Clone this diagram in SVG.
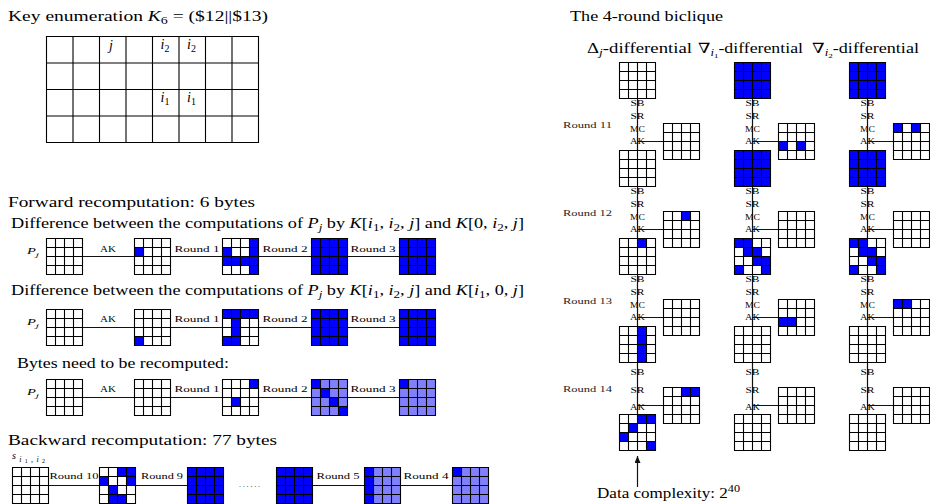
<svg xmlns="http://www.w3.org/2000/svg" width="930" height="504" viewBox="0 0 930 504">
<style>
  text{font-family:"Liberation Serif","DejaVu Serif",serif;fill:#000}
  .t{font-size:14px}
  .s{font-size:8px;fill:#222}
  .it{font-style:italic}
  .w{fill:#fff}
  .b{fill:#0000ff}
  .l{fill:#8080ff}
  .ln{stroke:#111;stroke-width:1.2;fill:none}
  .gl{fill:none;stroke:#000;stroke-width:1.1}
</style>
<defs>
  <!-- 4x4 state grid lines, 9px cells -->
  <path id="g4" class="gl" d="M0,0H36V36H0Z M9,0V36M18,0V36M27,0V36M0,9H36M0,18H36M0,27H36"/>
  <rect id="bw" class="w" width="36" height="36"/>
  <rect id="bb" class="b" width="36" height="36"/>
  <rect id="bl" class="l" width="36" height="36"/>
  <marker id="ah" markerUnits="userSpaceOnUse" markerWidth="8" markerHeight="6" refX="7" refY="3" orient="auto">
    <path d="M0,0L7,3L0,6z" fill="#111"/>
  </marker>
</defs>

<!-- headings and captions -->
<g id="captions">
  <text class="t" x="8" y="21" textLength="260" lengthAdjust="spacingAndGlyphs">Key enumeration <tspan class="it">K</tspan><tspan dy="3" font-size="10">6</tspan><tspan dy="-3"> = ($12||$13)</tspan></text>
  <text class="t" x="8" y="207" textLength="247" lengthAdjust="spacingAndGlyphs">Forward recomputation: 6 bytes</text>
  <text class="t" x="11" y="228" textLength="513" lengthAdjust="spacingAndGlyphs">Difference between the computations of <tspan class="it">P</tspan><tspan class="it" dy="3" font-size="10">j</tspan><tspan dy="-3"> by </tspan><tspan class="it">K</tspan>[<tspan class="it">i</tspan><tspan dy="3" font-size="10">1</tspan><tspan dy="-3">, </tspan><tspan class="it">i</tspan><tspan dy="3" font-size="10">2</tspan><tspan dy="-3">, </tspan><tspan class="it">j</tspan>] and <tspan class="it">K</tspan>[0, <tspan class="it">i</tspan><tspan dy="3" font-size="10">2</tspan><tspan dy="-3">, </tspan><tspan class="it">j</tspan>]</text>
  <text class="t" x="11" y="295" textLength="513" lengthAdjust="spacingAndGlyphs">Difference between the computations of <tspan class="it">P</tspan><tspan class="it" dy="3" font-size="10">j</tspan><tspan dy="-3"> by </tspan><tspan class="it">K</tspan>[<tspan class="it">i</tspan><tspan dy="3" font-size="10">1</tspan><tspan dy="-3">, </tspan><tspan class="it">i</tspan><tspan dy="3" font-size="10">2</tspan><tspan dy="-3">, </tspan><tspan class="it">j</tspan>] and <tspan class="it">K</tspan>[<tspan class="it">i</tspan><tspan dy="3" font-size="10">1</tspan><tspan dy="-3">, 0, </tspan><tspan class="it">j</tspan>]</text>
  <text class="t" x="17" y="368" textLength="212" lengthAdjust="spacingAndGlyphs">Bytes need to be recomputed:</text>
  <text class="t" x="8" y="445" textLength="269" lengthAdjust="spacingAndGlyphs">Backward recomputation: 77 bytes</text>
  <text class="t" x="570" y="21" textLength="153" lengthAdjust="spacingAndGlyphs">The 4-round biclique</text>
  <text class="t" x="587" y="53" textLength="105" lengthAdjust="spacingAndGlyphs">Δ<tspan class="it" dy="3" font-size="10">j</tspan><tspan dy="-3">-differential</tspan></text>
  <text class="t" x="698" y="53" textLength="105" lengthAdjust="spacingAndGlyphs">∇<tspan class="it" dy="3" font-size="10">i</tspan><tspan dy="2" font-size="7">1</tspan><tspan dy="-5">-differential</tspan></text>
  <text class="t" x="812" y="53" textLength="107" lengthAdjust="spacingAndGlyphs">∇<tspan class="it" dy="3" font-size="10">i</tspan><tspan dy="2" font-size="7">2</tspan><tspan dy="-5">-differential</tspan></text>
  <text class="t" x="597" y="498" textLength="143" lengthAdjust="spacingAndGlyphs">Data complexity: 2<tspan dy="-6" font-size="10">40</tspan></text>
  <!-- state names -->
  <text class="it" font-size="9" x="27" y="254" textLength="12" lengthAdjust="spacingAndGlyphs">P<tspan dy="3" font-size="7">j</tspan></text>
  <text class="it" font-size="9" x="27" y="325" textLength="12" lengthAdjust="spacingAndGlyphs">P<tspan dy="3" font-size="7">j</tspan></text>
  <text class="it" font-size="9" x="27" y="395" textLength="12" lengthAdjust="spacingAndGlyphs">P<tspan dy="3" font-size="7">j</tspan></text>
  <text class="it" font-size="10" x="12" y="459" textLength="33" lengthAdjust="spacing">s<tspan dy="2.5" font-size="8">i</tspan><tspan dy="1.5" font-size="6" font-style="normal">1</tspan><tspan dy="-1.5" font-size="8">,i</tspan><tspan dy="1.5" font-size="6" font-style="normal">2</tspan></text>
  <text class="s" x="239" y="487" textLength="21" lengthAdjust="spacing">......</text>
  <!-- round labels of the biclique -->
  <text class="s" x="563" y="127.5" textLength="49" lengthAdjust="spacingAndGlyphs">Round 11</text>
  <text class="s" x="563" y="215.5" textLength="49" lengthAdjust="spacingAndGlyphs">Round 12</text>
  <text class="s" x="563" y="303.5" textLength="49" lengthAdjust="spacingAndGlyphs">Round 13</text>
  <text class="s" x="563" y="391.5" textLength="49" lengthAdjust="spacingAndGlyphs">Round 14</text>
</g>

<!-- key schedule table -->
<g id="key-table">
  <path class="gl" d="M46.5,36.5H258.5V142.5H46.5Z M73,36.5V142.5M99.5,36.5V142.5M126,36.5V142.5M152.5,36.5V142.5M179,36.5V142.5M205.5,36.5V142.5M232,36.5V142.5 M46.5,63H258.5M46.5,89.5H258.5M46.5,116H258.5"/>
  <text class="it" font-size="14" x="111" y="50" text-anchor="middle">j</text>
  <text class="it" font-size="14" x="165" y="48.5" text-anchor="middle">i<tspan dy="3" font-size="10" font-style="normal">2</tspan></text>
  <text class="it" font-size="14" x="191.5" y="48.5" text-anchor="middle">i<tspan dy="3" font-size="10" font-style="normal">2</tspan></text>
  <text class="it" font-size="14" x="165" y="101.5" text-anchor="middle">i<tspan dy="3" font-size="10" font-style="normal">1</tspan></text>
  <text class="it" font-size="14" x="191.5" y="101.5" text-anchor="middle">i<tspan dy="3" font-size="10" font-style="normal">1</tspan></text>
</g>

<!-- connectors with their labels -->
<g id="connectors">
  <g class="s" text-anchor="middle">
    <text x="108" y="252" textLength="16" lengthAdjust="spacingAndGlyphs">AK</text>
    <text x="197" y="252" textLength="45" lengthAdjust="spacingAndGlyphs">Round 1</text>
    <text x="285" y="252" textLength="45" lengthAdjust="spacingAndGlyphs">Round 2</text>
    <text x="373" y="252" textLength="45" lengthAdjust="spacingAndGlyphs">Round 3</text>
    <text x="108" y="322" textLength="16" lengthAdjust="spacingAndGlyphs">AK</text>
    <text x="197" y="322" textLength="45" lengthAdjust="spacingAndGlyphs">Round 1</text>
    <text x="285" y="322" textLength="45" lengthAdjust="spacingAndGlyphs">Round 2</text>
    <text x="373" y="322" textLength="45" lengthAdjust="spacingAndGlyphs">Round 3</text>
    <text x="108" y="392" textLength="16" lengthAdjust="spacingAndGlyphs">AK</text>
    <text x="197" y="392" textLength="45" lengthAdjust="spacingAndGlyphs">Round 1</text>
    <text x="285" y="392" textLength="45" lengthAdjust="spacingAndGlyphs">Round 2</text>
    <text x="373" y="392" textLength="45" lengthAdjust="spacingAndGlyphs">Round 3</text>
    <text x="74" y="479" textLength="49" lengthAdjust="spacingAndGlyphs">Round 10</text>
    <text x="162" y="479" textLength="42" lengthAdjust="spacingAndGlyphs">Round 9</text>
    <text x="338" y="479" textLength="43" lengthAdjust="spacingAndGlyphs">Round 5</text>
    <text x="426" y="479" textLength="45" lengthAdjust="spacingAndGlyphs">Round 4</text>
  </g>
  <!-- SB / SR / MC / AK steps of the biclique columns -->
  <g class="s" text-anchor="middle">
    <g id="steps-dj">
      <text x="637.5" y="105.5" textLength="14" lengthAdjust="spacingAndGlyphs">SB</text>
      <text x="637.5" y="118.5" textLength="14" lengthAdjust="spacingAndGlyphs">SR</text>
      <text x="637.5" y="131.5" textLength="15" lengthAdjust="spacingAndGlyphs">MC</text>
      <text x="637.5" y="144" textLength="15" lengthAdjust="spacingAndGlyphs">AK</text>
      <text x="637.5" y="193.5" textLength="14" lengthAdjust="spacingAndGlyphs">SB</text>
      <text x="637.5" y="206.5" textLength="14" lengthAdjust="spacingAndGlyphs">SR</text>
      <text x="637.5" y="219.5" textLength="15" lengthAdjust="spacingAndGlyphs">MC</text>
      <text x="637.5" y="232" textLength="15" lengthAdjust="spacingAndGlyphs">AK</text>
      <text x="637.5" y="281.5" textLength="14" lengthAdjust="spacingAndGlyphs">SB</text>
      <text x="637.5" y="294.5" textLength="14" lengthAdjust="spacingAndGlyphs">SR</text>
      <text x="637.5" y="307.5" textLength="15" lengthAdjust="spacingAndGlyphs">MC</text>
      <text x="637.5" y="320" textLength="15" lengthAdjust="spacingAndGlyphs">AK</text>
      <text x="637.5" y="375" textLength="14" lengthAdjust="spacingAndGlyphs">SB</text>
      <text x="637.5" y="393" textLength="14" lengthAdjust="spacingAndGlyphs">SR</text>
      <text x="637.5" y="410" textLength="15" lengthAdjust="spacingAndGlyphs">AK</text>
    </g>
    <use href="#steps-dj" x="115"/>
    <use href="#steps-dj" x="230"/>
  </g>
  <path class="ln" d="M64.5,256.5H417.5 M64.5,327.5H417.5 M64.5,397.5H417.5 M30.5,485.5H206.5 M294.5,485.5H470.5
    M637.5,80V432 M752.5,80V432 M867.5,80V432
    M637.5,141.5H663.5 M637.5,229.5H663.5 M637.5,317.5H663.5 M637.5,405.5H663.5
    M752.5,141.5H778.5 M752.5,229.5H778.5 M752.5,317.5H778.5 M752.5,405.5H778.5
    M867.5,141.5H893.5 M867.5,229.5H893.5 M867.5,317.5H893.5 M867.5,405.5H893.5"/>
  <line class="ln" x1="637.5" y1="487" x2="637.5" y2="456" marker-end="url(#ah)"/>
</g>

<!-- forward recomputation, first key pair -->
<g id="fwd1-pj" transform="translate(46.5,238.5)"><use href="#bw"/><use href="#g4"/></g>
<g id="fwd1-ak" transform="translate(134.5,238.5)"><use href="#bw"/><rect class="b" x="0" y="9" width="9" height="9"/><use href="#g4"/></g>
<g id="fwd1-r1" transform="translate(222.5,238.5)"><use href="#bw"/><rect class="b" x="27" y="0" width="9" height="36"/><rect class="b" x="0" y="9" width="9" height="9"/><rect class="b" x="0" y="18" width="36" height="9"/><use href="#g4"/></g>
<g id="fwd1-r2" transform="translate(311.5,238.5)"><use href="#bb"/><use href="#g4"/></g>
<g id="fwd1-r3" transform="translate(399.5,238.5)"><use href="#bb"/><use href="#g4"/></g>

<!-- forward recomputation, second key pair -->
<g id="fwd2-pj" transform="translate(46.5,309.5)"><use href="#bw"/><use href="#g4"/></g>
<g id="fwd2-ak" transform="translate(134.5,309.5)"><use href="#bw"/><rect class="b" x="0" y="27" width="9" height="9"/><use href="#g4"/></g>
<g id="fwd2-r1" transform="translate(222.5,309.5)"><use href="#bw"/><rect class="b" x="0" y="0" width="36" height="9"/><rect class="b" x="9" y="9" width="9" height="27"/><rect class="b" x="0" y="27" width="9" height="9"/><use href="#g4"/></g>
<g id="fwd2-r2" transform="translate(311.5,309.5)"><use href="#bb"/><use href="#g4"/></g>
<g id="fwd2-r3" transform="translate(399.5,309.5)"><use href="#bb"/><use href="#g4"/></g>

<!-- bytes to recompute -->
<g id="rec-pj" transform="translate(46.5,379.5)"><use href="#bw"/><use href="#g4"/></g>
<g id="rec-ak" transform="translate(134.5,379.5)"><use href="#bw"/><use href="#g4"/></g>
<g id="rec-r1" transform="translate(222.5,379.5)"><use href="#bw"/><rect class="b" x="27" y="0" width="9" height="9"/><rect class="b" x="9" y="18" width="9" height="9"/><use href="#g4"/></g>
<g id="rec-r2" transform="translate(311.5,379.5)"><use href="#bl"/><rect class="b" x="0" y="0" width="9" height="9"/><rect class="b" x="9" y="9" width="9" height="9"/><rect class="b" x="18" y="18" width="9" height="9"/><rect class="b" x="27" y="27" width="9" height="9"/><use href="#g4"/></g>
<g id="rec-r3" transform="translate(399.5,379.5)"><use href="#bl"/><rect class="b" x="0" y="0" width="9" height="9"/><use href="#g4"/></g>

<!-- backward recomputation -->
<g id="bwd-s" transform="translate(12.5,467.5)"><use href="#bw"/><use href="#g4"/></g>
<g id="bwd-r10" transform="translate(99.5,467.5)"><use href="#bw"/><rect class="b" x="18" y="0" width="18" height="9"/><rect class="b" x="0" y="9" width="9" height="9"/><rect class="b" x="27" y="9" width="9" height="9"/><rect class="b" x="9" y="18" width="9" height="9"/><rect class="b" x="9" y="27" width="18" height="9"/><use href="#g4"/></g>
<g id="bwd-r9" transform="translate(187.5,467.5)"><use href="#bb"/><use href="#g4"/></g>
<g id="bwd-r6" transform="translate(276.5,467.5)"><use href="#bb"/><use href="#g4"/></g>
<g id="bwd-r5" transform="translate(364.5,467.5)"><use href="#bl"/><rect class="b" x="0" y="0" width="9" height="36"/><use href="#g4"/></g>
<g id="bwd-r4" transform="translate(452.5,467.5)"><use href="#bl"/><rect class="b" x="0" y="0" width="9" height="9"/><use href="#g4"/></g>

<!-- biclique, Delta_j column -->
<g id="dj-top" transform="translate(619.5,62.5)"><use href="#bw"/><use href="#g4"/></g>
<g id="dj-k11" transform="translate(663.5,123.5)"><use href="#bw"/><use href="#g4"/></g>
<g id="dj-s11" transform="translate(619.5,150.5)"><use href="#bw"/><use href="#g4"/></g>
<g id="dj-k12" transform="translate(663.5,211.5)"><use href="#bw"/><rect class="b" x="18" y="0" width="9" height="9"/><use href="#g4"/></g>
<g id="dj-s12" transform="translate(619.5,238.5)"><use href="#bw"/><rect class="b" x="18" y="0" width="9" height="9"/><use href="#g4"/></g>
<g id="dj-k13" transform="translate(663.5,299.5)"><use href="#bw"/><use href="#g4"/></g>
<g id="dj-s13" transform="translate(619.5,326.5)"><use href="#bw"/><rect class="b" x="18" y="0" width="9" height="36"/><use href="#g4"/></g>
<g id="dj-k14" transform="translate(663.5,387.5)"><use href="#bw"/><rect class="b" x="18" y="0" width="18" height="9"/><use href="#g4"/></g>
<g id="dj-s14" transform="translate(619.5,414.5)"><use href="#bw"/><rect class="b" x="18" y="0" width="18" height="9"/><rect class="b" x="9" y="9" width="9" height="9"/><rect class="b" x="0" y="18" width="9" height="9"/><rect class="b" x="27" y="27" width="9" height="9"/><use href="#g4"/></g>

<!-- biclique, nabla_i1 column -->
<g id="n1-top" transform="translate(734.5,62.5)"><use href="#bb"/><use href="#g4"/></g>
<g id="n1-k11" transform="translate(778.5,123.5)"><use href="#bw"/><rect class="b" x="0" y="18" width="9" height="9"/><rect class="b" x="18" y="18" width="9" height="9"/><use href="#g4"/></g>
<g id="n1-s11" transform="translate(734.5,150.5)"><use href="#bb"/><use href="#g4"/></g>
<g id="n1-k12" transform="translate(778.5,211.5)"><use href="#bw"/><use href="#g4"/></g>
<g id="n1-s12" transform="translate(734.5,238.5)"><use href="#bw"/><rect class="b" x="0" y="0" width="18" height="9"/><rect class="b" x="9" y="9" width="18" height="9"/><rect class="b" x="18" y="18" width="18" height="9"/><rect class="b" x="0" y="27" width="9" height="9"/><rect class="b" x="27" y="27" width="9" height="9"/><use href="#g4"/></g>
<g id="n1-k13" transform="translate(778.5,299.5)"><use href="#bw"/><rect class="b" x="0" y="18" width="18" height="9"/><use href="#g4"/></g>
<g id="n1-s13" transform="translate(734.5,326.5)"><use href="#bw"/><use href="#g4"/></g>
<g id="n1-k14" transform="translate(778.5,387.5)"><use href="#bw"/><use href="#g4"/></g>
<g id="n1-s14" transform="translate(734.5,414.5)"><use href="#bw"/><use href="#g4"/></g>

<!-- biclique, nabla_i2 column -->
<g id="n2-top" transform="translate(849.5,62.5)"><use href="#bb"/><use href="#g4"/></g>
<g id="n2-k11" transform="translate(893.5,123.5)"><use href="#bw"/><rect class="b" x="0" y="0" width="9" height="9"/><rect class="b" x="18" y="0" width="9" height="9"/><use href="#g4"/></g>
<g id="n2-s11" transform="translate(849.5,150.5)"><use href="#bb"/><use href="#g4"/></g>
<g id="n2-k12" transform="translate(893.5,211.5)"><use href="#bw"/><use href="#g4"/></g>
<g id="n2-s12" transform="translate(849.5,238.5)"><use href="#bw"/><rect class="b" x="0" y="0" width="18" height="9"/><rect class="b" x="9" y="9" width="18" height="9"/><rect class="b" x="18" y="18" width="18" height="9"/><rect class="b" x="0" y="27" width="9" height="9"/><rect class="b" x="27" y="27" width="9" height="9"/><use href="#g4"/></g>
<g id="n2-k13" transform="translate(893.5,299.5)"><use href="#bw"/><rect class="b" x="0" y="0" width="18" height="9"/><use href="#g4"/></g>
<g id="n2-s13" transform="translate(849.5,326.5)"><use href="#bw"/><use href="#g4"/></g>
<g id="n2-k14" transform="translate(893.5,387.5)"><use href="#bw"/><use href="#g4"/></g>
<g id="n2-s14" transform="translate(849.5,414.5)"><use href="#bw"/><use href="#g4"/></g>
</svg>
